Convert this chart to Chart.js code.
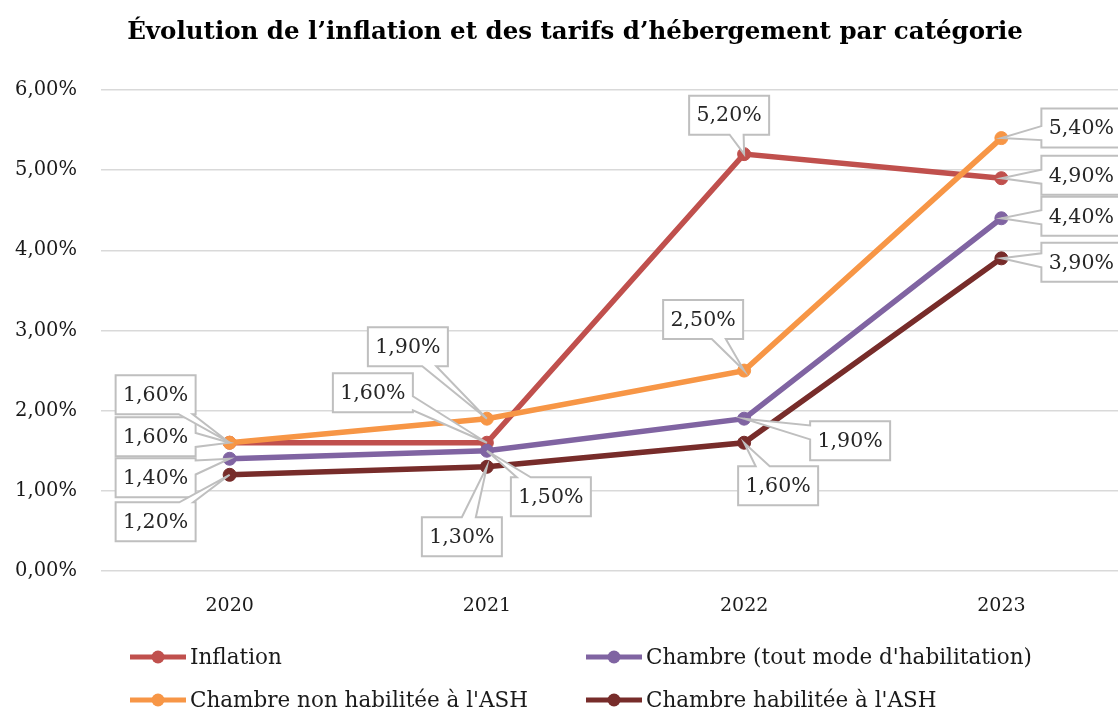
<!DOCTYPE html>
<html>
<head>
<meta charset="utf-8">
<script src="https://cdn.jsdelivr.net/npm/chart.js@4.4.1/dist/chart.umd.min.js"></script>
<style>
  html, body { margin: 0; padding: 0; background: #fff; overflow: hidden; }
  #wrap { width: 1150px; height: 714px; }
</style>
</head>
<body>
<div id="wrap"><canvas id="chart"></canvas></div>
<script>
// données (en %)
const years = ['2020', '2021', '2022', '2023'];
const inflation = [1.6, 1.6, 5.2, 4.9];
const chambreTout = [1.4, 1.5, 1.9, 4.4];
const chambreNonHab = [1.6, 1.9, 2.5, 5.4];
const chambreHab = [1.2, 1.3, 1.6, 3.9];
const yTicks = [0, 1, 2, 3, 4, 5, 6];
const titre = "Évolution de l’inflation et des tarifs d’hébergement par catégorie";

const FONT = "'DejaVu Serif', serif";
const fmt = v => v.toFixed(2).replace('.', ',') + '%';

// décalage des étiquettes (px, par rapport au point)
const labelOffsets = [
  [[-74, -6], [-114, -50], [-15, -39], [80, -3]],
  [[-74, 19], [64, 46], [106, 22], [80, -2]],
  [[-74, -48], [-79, -72], [-41, -51], [80, -10]],
  [[-74, 47], [-25, 70], [34, 43], [80, 4]]
];

function callout(ctx, cx, cy, w, h, px, py) {
  const l = cx - w / 2, r = cx + w / 2, t = cy - h / 2, b = cy + h / 2;
  const dx = (px - cx) / (w / 2), dy = (py - cy) / (h / 2);
  const hw = 7;
  let side = null;
  if (Math.abs(dx) > 1 || Math.abs(dy) > 1) {
    side = Math.abs(dx) >= Math.abs(dy) ? (dx > 0 ? 'r' : 'l') : (dy > 0 ? 'b' : 't');
  }
  const clamp = (v, a, z) => Math.max(a, Math.min(z, v));
  let xb = cx, yb = cy;
  if (side === 't' || side === 'b') {
    const k = (h / 2) / Math.abs(py - cy);
    xb = clamp(cx + (px - cx) * k, l + hw + 2, r - hw - 2);
  } else if (side) {
    const k = (w / 2) / Math.abs(px - cx);
    yb = clamp(cy + (py - cy) * k, t + hw + 2, b - hw - 2);
  }
  ctx.beginPath();
  ctx.moveTo(l, t);
  if (side === 't') { ctx.lineTo(xb - hw, t); ctx.lineTo(px, py); ctx.lineTo(xb + hw, t); }
  ctx.lineTo(r, t);
  if (side === 'r') { ctx.lineTo(r, yb - hw); ctx.lineTo(px, py); ctx.lineTo(r, yb + hw); }
  ctx.lineTo(r, b);
  if (side === 'b') { ctx.lineTo(xb + hw, b); ctx.lineTo(px, py); ctx.lineTo(xb - hw, b); }
  ctx.lineTo(l, b);
  if (side === 'l') { ctx.lineTo(l, yb + hw); ctx.lineTo(px, py); ctx.lineTo(l, yb - hw); }
  ctx.closePath();
  ctx.fillStyle = '#fff';
  ctx.fill();
  ctx.strokeStyle = '#bfbfbf';
  ctx.lineWidth = 2;
  ctx.stroke();
}

const labelsPlugin = {
  id: 'callouts',
  afterDatasetsDraw(chart) {
    const ctx = chart.ctx;
    ctx.save();
    ctx.font = '20.5px ' + FONT;
    ctx.textAlign = 'center';
    ctx.textBaseline = 'middle';
    chart.data.datasets.forEach((ds, i) => {
      chart.getDatasetMeta(i).data.forEach((pt, j) => {
        const off = labelOffsets[i][j];
        const cx = pt.x + off[0], cy = pt.y + off[1];
        callout(ctx, cx, cy, 80, 39, pt.x, pt.y);
        ctx.fillStyle = '#262626';
        ctx.fillText(fmt(ds.data[j]), cx, cy + 1);
      });
    });
    ctx.restore();
  }
};

// titre + légende sur deux colonnes
const decorPlugin = {
  id: 'decor',
  afterDraw(chart) {
    const ctx = chart.ctx;
    ctx.save();
    ctx.fillStyle = '#000';
    ctx.font = 'bold 24.5px ' + FONT;
    ctx.textAlign = 'center';
    ctx.textBaseline = 'middle';
    ctx.fillText(titre, 575, 33);

    const cols = [130, 586];
    const rows = [657, 700];
    ctx.font = '21.5px ' + FONT;
    ctx.textAlign = 'left';
    chart.data.datasets.forEach((ds, i) => {
      const x = cols[i % 2], y = rows[Math.floor(i / 2)];
      ctx.strokeStyle = ds.borderColor;
      ctx.lineWidth = 5;
      ctx.beginPath();
      ctx.moveTo(x, y);
      ctx.lineTo(x + 56, y);
      ctx.stroke();
      ctx.fillStyle = ds.borderColor;
      ctx.beginPath();
      ctx.arc(x + 28, y, 6.5, 0, Math.PI * 2);
      ctx.fill();
      ctx.fillStyle = '#1a1a1a';
      ctx.fillText(ds.label, x + 60, y + 1);
    });
    ctx.restore();
  }
};

function serie(label, data, color, order) {
  return {
    label: label,
    data: data,
    borderColor: color,
    backgroundColor: color,
    pointBackgroundColor: color,
    pointBorderColor: color,
    borderWidth: 5.5,
    pointRadius: 6.5,
    pointBorderWidth: 1,
    tension: 0,
    fill: false,
    order: order
  };
}

new Chart(document.getElementById('chart'), {
  type: 'line',
  data: {
    labels: years,
    datasets: [
      serie('Inflation', inflation, '#c0504d', 4),
      serie("Chambre (tout mode d'habilitation)", chambreTout, '#8064a2', 3),
      serie("Chambre non habilitée à l'ASH", chambreNonHab, '#f79646', 2),
      serie("Chambre habilitée à l'ASH", chambreHab, '#772c2a', 1)
    ]
  },
  options: {
    responsive: true,
    maintainAspectRatio: false,
    animation: false,
    layout: { padding: { left: 0, right: 20, top: 90, bottom: 99 } },
    plugins: {
      legend: { display: false },
      tooltip: { enabled: false },
      title: { display: false }
    },
    scales: {
      x: {
        offset: true,
        grid: { display: false },
        border: { display: false },
        ticks: { color: '#1a1a1a', font: { family: FONT, size: 19 }, padding: 16 },
        afterFit: s => { s.height = 44; }
      },
      y: {
        min: yTicks[0],
        max: yTicks[yTicks.length - 1],
        afterBuildTicks: s => { s.ticks = yTicks.map(v => ({ value: v })); },
        grid: { color: '#d9d9d9', lineWidth: 1.5, drawTicks: false },
        border: { display: false },
        ticks: { color: '#1a1a1a', font: { family: FONT, size: 19.5 }, padding: 24, callback: v => fmt(v) },
        afterFit: s => { s.width = 101; }
      }
    }
  },
  plugins: [labelsPlugin, decorPlugin]
});
</script>
</body>
</html>
